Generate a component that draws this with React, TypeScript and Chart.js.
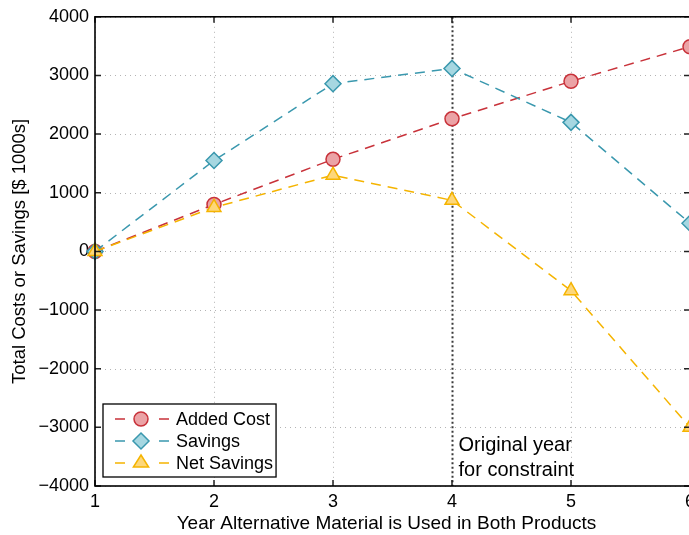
import React, { useEffect, useRef } from 'react';
import { Chart, registerables } from 'chart.js';

Chart.register(...registerables);

const years = [1, 2, 3, 4, 5, 6];
const addedCost = [0, 800, 1570, 2260, 2900, 3490];
const savings = [0, 1550, 2860, 3120, 2200, 480];
const netSavings = [0, 750, 1300, 870, -670, -3000];
const yTicks = [-4000, -3000, -2000, -1000, 0, 1000, 2000, 3000, 4000];
const seriesLabels = ['Added Cost', 'Savings', 'Net Savings'];
const constraintYear = 4;
const constraintText = ['Original year', 'for constraint'];
const xTitle = 'Year Alternative Material is Used in Both Products';
const yTitle = 'Total Costs or Savings [$ 1000s]';

const FONT = '"Liberation Sans", Arial, Helvetica, sans-serif';
const lineColors = ['#c8323a', '#3a98ae', '#f5b400'];
const fillColors = ['#eba3a6', '#a6d7e1', '#fdd77a'];
const pointStyles = ['circle', 'rectRot', 'triangle'];
const pointRadii = [7, 8, 8];

const fmt = (v: number) => (v < 0 ? '\u2212' + Math.abs(v) : String(v));

function drawMarker(ctx: CanvasRenderingContext2D, style: string, x: number, y: number, r: number) {
  ctx.beginPath();
  if (style === 'circle') {
    ctx.arc(x, y, r, 0, Math.PI * 2);
  } else if (style === 'rectRot') {
    ctx.moveTo(x, y - r);
    ctx.lineTo(x + r, y);
    ctx.lineTo(x, y + r);
    ctx.lineTo(x - r, y);
    ctx.closePath();
  } else {
    const h = r * 1.5;
    ctx.moveTo(x, y - r);
    ctx.lineTo(x + r * 0.95, y - r + h);
    ctx.lineTo(x - r * 0.95, y - r + h);
    ctx.closePath();
  }
  ctx.fill();
  ctx.stroke();
}

const framePlugin = {
  id: 'frame',
  beforeDatasetsDraw(chart: any) {
    const { ctx, chartArea: a, scales } = chart;
    const xs = scales.x, ys = scales.y;
    ctx.save();
    ctx.strokeStyle = '#b4b4b4';
    ctx.lineWidth = 1;
    ctx.setLineDash([1, 4]);
    for (const t of ys.ticks) {
      const y = Math.round(ys.getPixelForValue(t.value)) + 0.5;
      ctx.beginPath();
      ctx.moveTo(a.left, y);
      ctx.lineTo(a.right, y);
      ctx.stroke();
    }
    for (const t of xs.ticks) {
      if (t.value === constraintYear) continue;
      const x = Math.round(xs.getPixelForValue(t.value)) + 0.5;
      ctx.beginPath();
      ctx.moveTo(x, a.top);
      ctx.lineTo(x, a.bottom);
      ctx.stroke();
    }
    const cx = Math.round(xs.getPixelForValue(constraintYear)) + 0.5;
    ctx.strokeStyle = '#3a3a3a';
    ctx.lineWidth = 2;
    ctx.setLineDash([2, 2.5]);
    ctx.beginPath();
    ctx.moveTo(cx, a.top);
    ctx.lineTo(cx, a.bottom);
    ctx.stroke();
    ctx.setLineDash([]);
    ctx.fillStyle = '#000';
    ctx.font = '20px ' + FONT;
    ctx.textAlign = 'left';
    ctx.textBaseline = 'alphabetic';
    ctx.fillText(constraintText[0], cx + 6, a.bottom - 35);
    ctx.fillText(constraintText[1], cx + 6, a.bottom - 10);
    ctx.restore();
  },
  afterDatasetsDraw(chart: any) {
    const { ctx, chartArea: a, scales } = chart;
    const xs = scales.x, ys = scales.y;
    ctx.save();
    ctx.strokeStyle = '#222';
    ctx.lineWidth = 1.5;
    const tl = 6;
    for (const t of ys.ticks) {
      const y = ys.getPixelForValue(t.value);
      ctx.beginPath();
      ctx.moveTo(a.left, y);
      ctx.lineTo(a.left + tl, y);
      ctx.moveTo(a.right, y);
      ctx.lineTo(a.right - tl, y);
      ctx.stroke();
    }
    for (const t of xs.ticks) {
      const x = xs.getPixelForValue(t.value);
      ctx.beginPath();
      ctx.moveTo(x, a.bottom);
      ctx.lineTo(x, a.bottom - tl);
      ctx.moveTo(x, a.top);
      ctx.lineTo(x, a.top + tl);
      ctx.stroke();
    }
    ctx.strokeStyle = '#000';
    ctx.lineWidth = 1.6;
    ctx.strokeRect(a.left, a.top, a.right - a.left, a.bottom - a.top);

    ctx.fillStyle = '#000';
    ctx.font = '19px ' + FONT;
    ctx.textAlign = 'center';
    ctx.textBaseline = 'alphabetic';
    ctx.fillText(xTitle, (a.left + a.right) / 2 - 6, a.bottom + 43);

    ctx.font = '18px ' + FONT;
    let maxW = 0;
    for (const s of seriesLabels) maxW = Math.max(maxW, ctx.measureText(s).width);
    const bx = a.left + 8;
    const rowH = 22;
    const bh = 73;
    const by = a.bottom - 9 - bh;
    const bw = 73 + maxW + 3;
    ctx.fillStyle = '#fff';
    ctx.fillRect(bx, by, bw, bh);
    ctx.lineWidth = 1.3;
    ctx.strokeStyle = '#000';
    ctx.strokeRect(bx, by, bw, bh);
    seriesLabels.forEach((lab, i) => {
      const y = by + 15 + i * rowH;
      ctx.strokeStyle = lineColors[i];
      ctx.lineWidth = 1.5;
      ctx.beginPath();
      ctx.moveTo(bx + 12, y);
      ctx.lineTo(bx + 22, y);
      ctx.moveTo(bx + 56, y);
      ctx.lineTo(bx + 66, y);
      ctx.stroke();
      ctx.fillStyle = fillColors[i];
      drawMarker(ctx, pointStyles[i], bx + 38, y, pointRadii[i]);
      ctx.fillStyle = '#000';
      ctx.textAlign = 'left';
      ctx.textBaseline = 'middle';
      ctx.fillText(lab, bx + 73, y + 1);
    });
    ctx.restore();
  },
};

export default function App() {
  const ref = useRef<HTMLCanvasElement | null>(null);
  useEffect(() => {
    if (!ref.current) return;
    const series = [addedCost, savings, netSavings];
    const chart = new Chart(ref.current, {
      type: 'line',
      data: {
        datasets: series.map((vals, i) => ({
          label: seriesLabels[i],
          data: years.map((x, j) => ({ x, y: vals[j] })),
          order: series.length - 1 - i,
          borderColor: lineColors[i],
          backgroundColor: fillColors[i],
          pointBackgroundColor: fillColors[i],
          pointBorderColor: lineColors[i],
          pointBorderWidth: 1.5,
          pointStyle: pointStyles[i] as any,
          pointRadius: pointRadii[i],
          borderWidth: 1.5,
          borderDash: [10, 7],
          fill: false,
          tension: 0,
          clip: false as any,
        })),
      },
      options: {
        animation: false,
        responsive: false,
        layout: { padding: { left: 0, right: 30, top: 16, bottom: 0 } },
        plugins: { legend: { display: false }, tooltip: { enabled: false } },
        scales: {
          x: {
            type: 'linear',
            min: 1,
            max: 6,
            grid: { display: false, drawTicks: false },
            border: { display: false },
            ticks: {
              stepSize: 1,
              padding: 5,
              color: '#000',
              font: { family: FONT, size: 18 },
              callback: (v: any) => String(v),
            },
            title: { display: false, text: xTitle },
            afterFit: (s: any) => { s.height = 49; },
          },
          y: {
            type: 'linear',
            min: -4000,
            max: 4000,
            afterBuildTicks: (s: any) => { s.ticks = yTicks.map((v) => ({ value: v })); },
            grid: { display: false, drawTicks: false },
            border: { display: false },
            ticks: {
              padding: 6,
              color: '#000',
              font: { family: FONT, size: 18 },
              callback: (v: any) => fmt(Number(v)),
            },
            title: {
              display: true,
              text: yTitle,
              color: '#000',
              font: { family: FONT, size: 18.5 },
              padding: { top: 9, bottom: 0 },
            },
            afterFit: (s: any) => { s.width = 95; },
          },
        },
      },
      plugins: [framePlugin],
    });
    return () => chart.destroy();
  }, []);
  return (
    <div style={{ position: 'fixed', left: 0, top: 0, width: 689, height: 535, overflow: 'hidden', background: '#fff' }}>
      <canvas ref={ref} width={720} height={535} style={{ display: 'block', width: 720, height: 535 }} />
    </div>
  );
}
